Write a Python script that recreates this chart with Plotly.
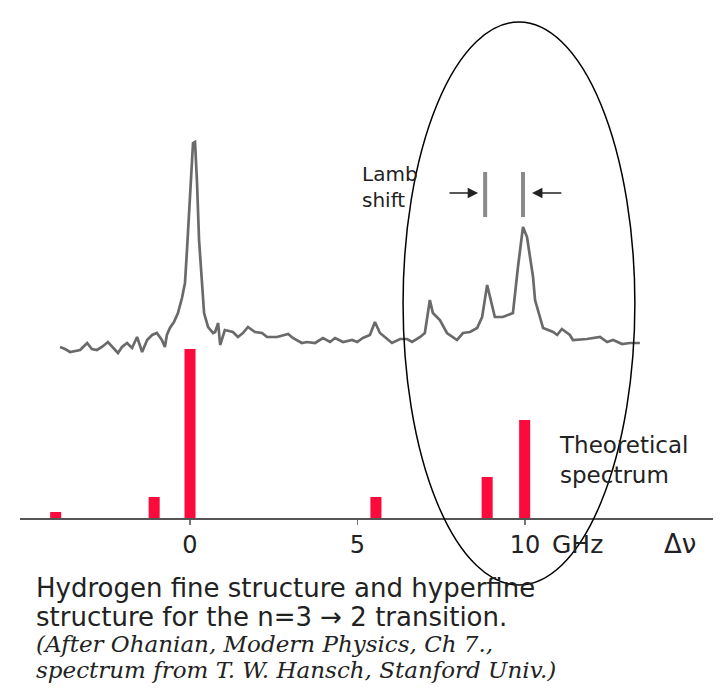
import plotly.graph_objects as go

# ---- data (frequency offset in GHz, intensity in arbitrary units) ----
spec_x = [-3.88, -3.73, -3.58, -3.43, -3.28, -3.07, -2.93, -2.78, -2.63, -2.45,
          -2.30, -2.15, -2.03, -1.88, -1.73, -1.58, -1.43, -1.28, -1.13, -0.99,
          -0.84, -0.75, -0.69, -0.60, -0.48, -0.36, -0.24, -0.15, -0.09, 0.00,
          0.09, 0.15, 0.21, 0.27, 0.36, 0.42, 0.54, 0.69, 0.75, 0.84,
          0.90, 1.04, 1.28, 1.43, 1.58, 1.73, 1.94, 2.15, 2.30, 2.60,
          2.93, 3.07, 3.34, 3.49, 3.73, 3.97, 4.18, 4.33, 4.57, 4.84,
          4.99, 5.16, 5.37, 5.52, 5.67, 5.82, 6.03, 6.27, 6.48, 6.63,
          6.87, 7.01, 7.16, 7.25, 7.46, 7.67, 7.85, 7.97, 8.15, 8.36,
          8.57, 8.72, 8.87, 8.96, 9.10, 9.34, 9.64, 9.79, 9.94, 10.06,
          10.24, 10.30, 10.54, 10.84, 10.96, 11.10, 11.34, 11.43, 11.85, 12.24,
          12.45, 12.63, 12.90, 13.13, 13.43]
spec_y = [171, 169, 166, 167, 168, 175, 169, 168, 171, 176,
          171, 165, 171, 175, 170, 181, 166, 178, 183, 185,
          178, 171, 183, 190, 196, 205, 220, 235, 268, 318,
          375, 376, 335, 278, 231, 205, 191, 185, 186, 195,
          173, 188, 186, 181, 185, 191, 186, 185, 181, 181,
          184, 180, 175, 176, 175, 180, 176, 180, 176, 178,
          176, 180, 183, 196, 185, 181, 175, 179, 179, 176,
          181, 185, 218, 205, 198, 185, 181, 178, 185, 186,
          190, 201, 233, 221, 201, 201, 205, 251, 291, 281,
          241, 218, 190, 186, 183, 189, 183, 178, 179, 181,
          176, 178, 174, 175, 175]

theory_x = [-4.01, -1.07, 0.0, 5.55, 8.87, 9.99]
theory_y = [6, 21, 169, 21, 41, 98]

lamb_x = [8.81, 9.94]          # the two resolved components
lamb_marker = [301, 346]       # vertical extent of the markers

tick_vals = [0, 5, 10]
tick_text = ["0", "5", "10"]

caption = [
    "Hydrogen fine structure and hyperfine",
    "structure for the n=3 \u2192 2 transition.",
    "(After Ohanian, Modern Physics, Ch 7.,",
    "spectrum from T. W. Hansch, Stanford Univ.)",
]

SPEC_COLOR = "#6a6a6a"
BAR_COLOR = "#fb0a3c"
TXT = "#222222"
SANS = "DejaVu Sans"
SERIF = "DejaVu Serif"

fig = go.Figure()

fig.add_trace(go.Scatter(x=spec_x, y=spec_y, mode="lines",
                         line=dict(color=SPEC_COLOR, width=2.7),
                         hoverinfo="skip", showlegend=False))

fig.add_trace(go.Bar(x=theory_x, y=theory_y, width=0.33,
                     marker=dict(color=BAR_COLOR, line=dict(width=0)),
                     hoverinfo="skip", showlegend=False))

# Lamb-shift markers
lx, ly = [], []
for v in lamb_x:
    lx += [v, v, None]
    ly += [lamb_marker[0], lamb_marker[1], None]
fig.add_trace(go.Scatter(x=lx, y=ly, mode="lines",
                         line=dict(color="#8a8a8a", width=4),
                         hoverinfo="skip", showlegend=False))

anns = []
# arrows pointing at the markers
anns.append(dict(x=8.60, y=325, ax=7.70, ay=325, xref="x", yref="y",
                 axref="x", ayref="y", text="", showarrow=True,
                 arrowhead=2, arrowsize=1.3, arrowwidth=1.6, arrowcolor="#222"))
anns.append(dict(x=10.21, y=325, ax=11.13, ay=325, xref="x", yref="y",
                 axref="x", ayref="y", text="", showarrow=True,
                 arrowhead=2, arrowsize=1.3, arrowwidth=1.6, arrowcolor="#222"))

anns.append(dict(x=5.08, y=331, xref="x", yref="y", xanchor="left",
                 yanchor="middle", align="left", showarrow=False,
                 text="Lamb<br>shift", font=dict(family=SANS, size=20, color=TXT)))
anns.append(dict(x=10.96, y=58, xref="x", yref="y", xanchor="left",
                 yanchor="middle", align="left", showarrow=False,
                 text="Theoretical<br>spectrum",
                 font=dict(family=SANS, size=23, color=TXT)))
anns.append(dict(x=10.76, y=-26, xref="x", yref="y", xanchor="left",
                 yanchor="middle", showarrow=False, text="GHz",
                 font=dict(family=SANS, size=25, color=TXT)))
anns.append(dict(x=14.10, y=-26, xref="x", yref="y", xanchor="left",
                 yanchor="middle", showarrow=False, text="\u0394\u03bd",
                 font=dict(family=SANS, size=26, color=TXT)))

cap_y = [-70, -99, -126, -152]
for i, line in enumerate(caption):
    if i < 2:
        f = dict(family=SANS, size=26, color=TXT)
    else:
        f = dict(family=SERIF, size=23, color=TXT, style="italic")
    anns.append(dict(x=-4.66, y=cap_y[i], xref="x", yref="y", xanchor="left",
                     yanchor="middle", align="left", showarrow=False,
                     text=line, font=f))

fig.update_layout(
    width=725, height=691,
    margin=dict(l=20, r=12, t=0, b=0, pad=0),
    paper_bgcolor="white", plot_bgcolor="white",
    showlegend=False, hovermode=False,
    annotations=anns,
    shapes=[dict(type="circle", xref="x", yref="y",
                 x0=6.36, x1=13.28, y0=-67, y1=496,
                 line=dict(color="black", width=1.5), layer="above")],
    xaxis=dict(range=[-5.075, 15.612], anchor="free", position=173 / 691,
               showgrid=False, zeroline=False, showline=True,
               linecolor="#555555", linewidth=1.6,
               ticks="outside", ticklen=5, tickwidth=1.5, tickcolor="#777777",
               tickvals=tick_vals, ticktext=tick_text,
               tickfont=dict(family=SANS, size=24, color=TXT),
               fixedrange=True),
    yaxis=dict(range=[-173, 518], visible=False, fixedrange=True),
)

fig.write_html("out.html", config=dict(displayModeBar=False, staticPlot=True))
